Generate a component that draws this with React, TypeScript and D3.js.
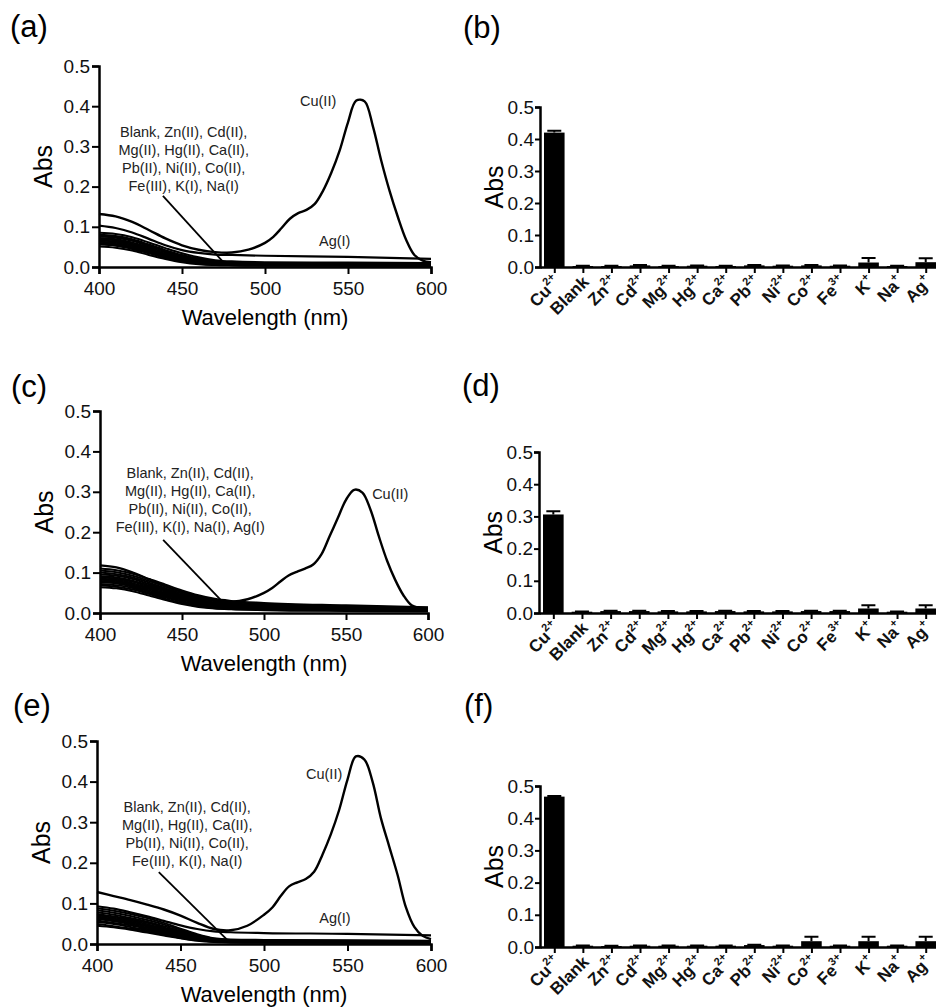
import { useEffect, useRef } from "react"
import * as d3 from "d3"

const FONT = "'Liberation Sans', Arial, sans-serif"

// wavelength grids (nm)
const WL_BG = [400, 410, 420, 430, 440, 450, 460, 470, 480, 500, 550, 600]
const WL_CU = [
  400, 410, 420, 430, 440, 450, 460, 470, 480, 490, 500, 505, 510, 515, 520,
  525, 530, 535, 540, 545, 550, 555, 560, 565, 570, 575, 580, 585, 590, 595, 600,
]

// (a) spectra
const cuA = [
  0.132, 0.126, 0.112, 0.092, 0.071, 0.054, 0.043, 0.037, 0.036, 0.043, 0.06,
  0.075, 0.097, 0.12, 0.134, 0.142, 0.157, 0.19, 0.235, 0.29, 0.36, 0.414,
  0.412, 0.35, 0.265, 0.19, 0.125, 0.068, 0.03, 0.016, 0.012,
]
const agA = [0.103, 0.097, 0.086, 0.07, 0.054, 0.042, 0.035, 0.031, 0.03, 0.028, 0.025, 0.02]
const othersA = [
  [0.085, 0.082, 0.074, 0.061, 0.047, 0.034, 0.024, 0.017, 0.014, 0.012, 0.011, 0.01],
  [0.08, 0.077, 0.069, 0.056, 0.042, 0.03, 0.021, 0.015, 0.012, 0.01, 0.009, 0.008],
  [0.078, 0.075, 0.067, 0.054, 0.04, 0.028, 0.019, 0.014, 0.011, 0.009, 0.008, 0.008],
  [0.076, 0.073, 0.065, 0.052, 0.039, 0.027, 0.018, 0.013, 0.01, 0.009, 0.008, 0.007],
  [0.072, 0.069, 0.061, 0.049, 0.036, 0.025, 0.016, 0.011, 0.009, 0.008, 0.007, 0.006],
  [0.069, 0.066, 0.058, 0.046, 0.033, 0.022, 0.014, 0.01, 0.008, 0.007, 0.006, 0.006],
  [0.066, 0.063, 0.055, 0.043, 0.031, 0.02, 0.013, 0.009, 0.007, 0.006, 0.006, 0.005],
  [0.063, 0.06, 0.052, 0.04, 0.028, 0.018, 0.011, 0.008, 0.006, 0.005, 0.005, 0.004],
  [0.06, 0.057, 0.049, 0.037, 0.026, 0.016, 0.01, 0.007, 0.005, 0.005, 0.004, 0.004],
  [0.058, 0.055, 0.047, 0.036, 0.025, 0.015, 0.009, 0.006, 0.005, 0.004, 0.004, 0.004],
  [0.056, 0.053, 0.045, 0.034, 0.023, 0.014, 0.009, 0.006, 0.005, 0.004, 0.004, 0.003],
  [0.051, 0.048, 0.041, 0.03, 0.02, 0.012, 0.007, 0.005, 0.004, 0.003, 0.003, 0.003],
]

// (c) spectra
const cuC = [
  0.118, 0.113, 0.1, 0.083, 0.066, 0.052, 0.04, 0.032, 0.028, 0.034, 0.05,
  0.062, 0.078, 0.093, 0.102, 0.11, 0.12, 0.145, 0.19, 0.235, 0.28, 0.305,
  0.298, 0.255, 0.19, 0.13, 0.082, 0.044, 0.019, 0.012, 0.01,
]
const othersC = [
  [0.11, 0.106, 0.097, 0.084, 0.07, 0.056, 0.044, 0.035, 0.03, 0.025, 0.019, 0.014],
  [0.105, 0.101, 0.092, 0.079, 0.065, 0.052, 0.041, 0.032, 0.027, 0.022, 0.017, 0.013],
  [0.1, 0.096, 0.088, 0.075, 0.061, 0.048, 0.037, 0.029, 0.024, 0.02, 0.015, 0.012],
  [0.095, 0.092, 0.084, 0.071, 0.058, 0.045, 0.034, 0.026, 0.022, 0.018, 0.014, 0.011],
  [0.091, 0.088, 0.08, 0.068, 0.055, 0.042, 0.032, 0.024, 0.02, 0.016, 0.013, 0.01],
  [0.088, 0.085, 0.077, 0.065, 0.052, 0.04, 0.03, 0.022, 0.018, 0.015, 0.012, 0.009],
  [0.085, 0.082, 0.074, 0.062, 0.049, 0.037, 0.027, 0.02, 0.016, 0.013, 0.011, 0.009],
  [0.082, 0.079, 0.071, 0.059, 0.046, 0.035, 0.025, 0.018, 0.015, 0.012, 0.01, 0.008],
  [0.079, 0.076, 0.068, 0.056, 0.044, 0.033, 0.023, 0.017, 0.014, 0.011, 0.009, 0.007],
  [0.076, 0.073, 0.065, 0.053, 0.041, 0.03, 0.021, 0.015, 0.012, 0.01, 0.008, 0.007],
  [0.072, 0.069, 0.062, 0.05, 0.038, 0.028, 0.019, 0.014, 0.011, 0.009, 0.007, 0.006],
  [0.068, 0.065, 0.058, 0.047, 0.035, 0.025, 0.017, 0.012, 0.01, 0.008, 0.006, 0.005],
  [0.064, 0.061, 0.054, 0.043, 0.032, 0.022, 0.015, 0.011, 0.009, 0.007, 0.005, 0.004],
]

// (e) spectra
const cuE = [
  0.128, 0.118, 0.108, 0.097, 0.085, 0.07, 0.052, 0.037, 0.034, 0.045, 0.072,
  0.09, 0.118, 0.142, 0.152, 0.16, 0.178, 0.22, 0.27, 0.33, 0.405, 0.462,
  0.455, 0.4, 0.31, 0.24, 0.17, 0.09, 0.042, 0.02, 0.012,
]
const agE = [0.093, 0.087, 0.078, 0.068, 0.057, 0.046, 0.037, 0.031, 0.029, 0.027, 0.025, 0.021]
const othersE = [
  [0.088, 0.082, 0.074, 0.064, 0.052, 0.038, 0.024, 0.014, 0.011, 0.01, 0.009, 0.008],
  [0.083, 0.077, 0.069, 0.059, 0.048, 0.035, 0.022, 0.013, 0.01, 0.009, 0.008, 0.007],
  [0.078, 0.072, 0.064, 0.055, 0.044, 0.032, 0.02, 0.012, 0.009, 0.008, 0.007, 0.006],
  [0.074, 0.068, 0.061, 0.052, 0.041, 0.029, 0.018, 0.011, 0.008, 0.007, 0.006, 0.006],
  [0.071, 0.065, 0.058, 0.049, 0.038, 0.027, 0.016, 0.01, 0.008, 0.007, 0.006, 0.005],
  [0.068, 0.062, 0.055, 0.046, 0.036, 0.025, 0.015, 0.009, 0.007, 0.006, 0.005, 0.005],
  [0.065, 0.059, 0.052, 0.043, 0.033, 0.023, 0.014, 0.008, 0.006, 0.006, 0.005, 0.004],
  [0.062, 0.056, 0.049, 0.04, 0.031, 0.021, 0.012, 0.008, 0.006, 0.005, 0.005, 0.004],
  [0.058, 0.052, 0.046, 0.037, 0.028, 0.019, 0.011, 0.007, 0.005, 0.005, 0.004, 0.004],
  [0.054, 0.049, 0.042, 0.034, 0.026, 0.017, 0.01, 0.006, 0.005, 0.004, 0.004, 0.003],
  [0.049, 0.044, 0.038, 0.031, 0.023, 0.015, 0.009, 0.006, 0.004, 0.004, 0.003, 0.003],
  [0.045, 0.041, 0.035, 0.028, 0.021, 0.014, 0.008, 0.005, 0.004, 0.003, 0.003, 0.003],
]

const NOTE_LINES = [
  "Blank, Zn(II), Cd(II),",
  "Mg(II), Hg(II), Ca(II),",
  "Pb(II), Ni(II), Co(II),",
  "Fe(III), K(I), Na(I)",
]
const NOTE_LINES_C = [
  "Blank, Zn(II), Cd(II),",
  "Mg(II), Hg(II), Ca(II),",
  "Pb(II), Ni(II), Co(II),",
  "Fe(III), K(I), Na(I), Ag(I)",
]

// bar charts
const IONS = ["Cu", "Blank", "Zn", "Cd", "Mg", "Hg", "Ca", "Pb", "Ni", "Co", "Fe", "K", "Na", "Ag"]
const CHARGES = ["2+", "", "2+", "2+", "2+", "2+", "2+", "2+", "2+", "2+", "3+", "+", "+", "+"]

const absB = [0.42, 0.003, 0.003, 0.005, 0.003, 0.004, 0.003, 0.005, 0.004, 0.005, 0.004, 0.014, 0.003, 0.015]
const errB = [0.006, 0.001, 0.001, 0.001, 0.001, 0.001, 0.001, 0.001, 0.001, 0.001, 0.001, 0.014, 0.001, 0.012]
const absD = [0.306, 0.004, 0.006, 0.006, 0.005, 0.005, 0.006, 0.005, 0.005, 0.006, 0.006, 0.014, 0.004, 0.014]
const errD = [0.01, 0.001, 0.001, 0.001, 0.001, 0.001, 0.001, 0.001, 0.001, 0.001, 0.001, 0.01, 0.001, 0.01]
const absF = [0.467, 0.004, 0.003, 0.004, 0.004, 0.004, 0.004, 0.006, 0.004, 0.018, 0.004, 0.018, 0.004, 0.018]
const errF = [0.002, 0.001, 0.001, 0.001, 0.001, 0.001, 0.001, 0.001, 0.001, 0.014, 0.001, 0.014, 0.001, 0.014]

const Y_TICKS = [0, 0.1, 0.2, 0.3, 0.4, 0.5]
const X_TICKS = [400, 450, 500, 550, 600]

const spectraPanels = [
  {
    label: "(a)", lx: 10, ly: 37, x0: 99, x1: 431, y0: 267, y1: 66,
    cu: cuA, ag: agA, others: othersA, note: NOTE_LINES,
    noteAt: [451, 0.323], ptrFrom: [438.5, 0.177], ptrTo: [476, 0.007],
    cuAt: [532, 0.401], agAt: [542, 0.052],
  },
  {
    label: "(c)", lx: 11, ly: 397, x0: 100, x1: 428, y0: 613, y1: 411,
    cu: cuC, ag: null, others: othersC, note: NOTE_LINES_C,
    noteAt: [455, 0.334], ptrFrom: [438.5, 0.181], ptrTo: [477.7, 0.015],
    cuAt: [577, 0.282], agAt: null,
  },
  {
    label: "(e)", lx: 13, ly: 716, x0: 97, x1: 431, y0: 944, y1: 741,
    cu: cuE, ag: agE, others: othersE, note: NOTE_LINES,
    noteAt: [454, 0.325], ptrFrom: [437, 0.177], ptrTo: [478, 0.01],
    cuAt: [536, 0.406], agAt: [542.5, 0.052],
  },
]

const barPanels = [
  { label: "(b)", lx: 463, ly: 38, x0: 540, x1: 940, y0: 267, y1: 107, values: absB, errors: errB },
  { label: "(d)", lx: 462, ly: 396, x0: 539, x1: 940, y0: 613, y1: 452, values: absD, errors: errD },
  { label: "(f)", lx: 464, ly: 716, x0: 540, x1: 940, y0: 947, y1: 786, values: absF, errors: errF },
]

const styleAxis = (g, fontSize) => {
  g.attr("font-family", FONT).attr("font-size", fontSize)
  g.select(".domain").attr("stroke", "#000").attr("stroke-width", 2.5)
  g.selectAll(".tick line").attr("stroke", "#000").attr("stroke-width", 2)
  g.selectAll(".tick text").attr("fill", "#111")
}

const App = () => {
  const ref = useRef(null)

  useEffect(() => {
    const svg = d3.select(ref.current)
    svg.selectAll("*").remove()

    spectraPanels.forEach((p) => {
      const x = d3.scaleLinear().domain([400, 600]).range([p.x0, p.x1])
      const y = d3.scaleLinear().domain([0, 0.5]).range([p.y0, p.y1])
      const g = svg.append("g")

      svg
        .append("text")
        .attr("x", p.lx)
        .attr("y", p.ly)
        .attr("font-family", FONT)
        .attr("font-size", 31)
        .text(p.label)

      const bgLine = d3
        .line()
        .x((d, i) => x(WL_BG[i]))
        .y((d) => y(d))
        .curve(d3.curveMonotoneX)
      const cuLine = d3
        .line()
        .x((d, i) => x(WL_CU[i]))
        .y((d) => y(d))
        .curve(d3.curveCatmullRom.alpha(0.5))

      const lines = g.append("g").attr("fill", "none").attr("stroke", "#000")
      p.others.forEach((s) => {
        lines.append("path").attr("d", bgLine(s)).attr("stroke-width", 2)
      })
      if (p.ag) lines.append("path").attr("d", bgLine(p.ag)).attr("stroke-width", 2.2)
      lines.append("path").attr("d", cuLine(p.cu)).attr("stroke-width", 2.4)

      // axes
      const ay = g
        .append("g")
        .attr("transform", `translate(${p.x0},0)`)
        .call(
          d3.axisLeft(y).tickValues(Y_TICKS).tickFormat(d3.format(".1f")).tickSize(7).tickPadding(2)
        )
      styleAxis(ay, 19)
      const ax = g
        .append("g")
        .attr("transform", `translate(0,${p.y0})`)
        .call(d3.axisBottom(x).tickValues(X_TICKS).tickSize(7).tickPadding(8))
      styleAxis(ax, 19)

      g.append("text")
        .attr("transform", `translate(${p.x0 - 47},${(p.y0 + p.y1) / 2}) rotate(-90)`)
        .attr("text-anchor", "middle")
        .attr("font-family", FONT)
        .attr("font-size", 25)
        .text("Abs")
      g.append("text")
        .attr("x", (p.x0 + p.x1) / 2)
        .attr("y", p.y0 + 58)
        .attr("text-anchor", "middle")
        .attr("font-family", FONT)
        .attr("font-size", 22)
        .text("Wavelength (nm)")

      // annotation
      const note = g
        .append("text")
        .attr("font-family", FONT)
        .attr("font-size", 14.5)
        .attr("fill", "#222")
        .attr("text-anchor", "middle")
      p.note.forEach((t, i) => {
        note
          .append("tspan")
          .attr("x", x(p.noteAt[0]))
          .attr("y", y(p.noteAt[1]) + i * 18)
          .text(t)
      })
      g.append("line")
        .attr("x1", x(p.ptrFrom[0]))
        .attr("y1", y(p.ptrFrom[1]))
        .attr("x2", x(p.ptrTo[0]))
        .attr("y2", y(p.ptrTo[1]))
        .attr("stroke", "#000")
        .attr("stroke-width", 1.8)

      g.append("text")
        .attr("x", x(p.cuAt[0]))
        .attr("y", y(p.cuAt[1]))
        .attr("text-anchor", "middle")
        .attr("font-family", FONT)
        .attr("font-size", 14.5)
        .attr("fill", "#222")
        .text("Cu(II)")
      if (p.agAt) {
        g.append("text")
          .attr("x", x(p.agAt[0]))
          .attr("y", y(p.agAt[1]))
          .attr("text-anchor", "middle")
          .attr("font-family", FONT)
          .attr("font-size", 14.5)
          .attr("fill", "#222")
          .text("Ag(I)")
      }
    })

    barPanels.forEach((p) => {
      const x = d3.scalePoint().domain(IONS).range([p.x0, p.x1]).padding(0.5)
      const y = d3.scaleLinear().domain([0, 0.5]).range([p.y0, p.y1])
      const bw = x.step() * 0.72
      const g = svg.append("g")

      svg
        .append("text")
        .attr("x", p.lx)
        .attr("y", p.ly)
        .attr("font-family", FONT)
        .attr("font-size", 31)
        .text(p.label)

      // error bars (upper only)
      g.append("g")
        .selectAll("path")
        .data(IONS)
        .join("path")
        .attr("d", (d, i) => {
          const cx = x(d)
          const top = y(p.values[i] + p.errors[i])
          return `M${cx},${y(p.values[i])}V${top}M${cx - 7},${top}H${cx + 7}`
        })
        .attr("stroke", "#000")
        .attr("stroke-width", 2)
        .attr("fill", "none")

      g.append("g")
        .selectAll("rect")
        .data(IONS)
        .join("rect")
        .attr("x", (d) => x(d) - bw / 2)
        .attr("width", bw)
        .attr("y", (d, i) => y(p.values[i]))
        .attr("height", (d, i) => Math.max(0, p.y0 - y(p.values[i])))
        .attr("fill", "#000")

      const ay = g
        .append("g")
        .attr("transform", `translate(${p.x0},0)`)
        .call(
          d3.axisLeft(y).tickValues(Y_TICKS).tickFormat(d3.format(".1f")).tickSize(5).tickPadding(1)
        )
      styleAxis(ay, 19)

      const ax = g
        .append("g")
        .attr("transform", `translate(0,${p.y0})`)
        .call(d3.axisBottom(x).tickSize(6).tickSizeOuter(0).tickFormat(() => ""))
      styleAxis(ax, 15)

      const labels = g
        .append("g")
        .selectAll("text")
        .data(IONS)
        .join("text")
        .attr("transform", (d) => `translate(${x(d) + 7},${p.y0 + 16}) rotate(-45)`)
        .attr("text-anchor", "end")
        .attr("font-family", FONT)
        .attr("font-size", 17)
        .attr("font-weight", "bold")
        .attr("fill", "#111")
      labels.append("tspan").text((d) => d)
      labels
        .append("tspan")
        .attr("dy", -8)
        .attr("font-size", 11)
        .text((d, i) => CHARGES[i])

      g.append("text")
        .attr("transform", `translate(${p.x0 - 37},${(p.y0 + p.y1) / 2}) rotate(-90)`)
        .attr("text-anchor", "middle")
        .attr("font-family", FONT)
        .attr("font-size", 25)
        .text("Abs")
    })
  }, [])

  return (
    <svg
      ref={ref}
      width={936}
      height={1008}
      viewBox="0 0 936 1008"
      style={{ position: "absolute", left: 0, top: 0, background: "#fff" }}
    />
  )
}

export default App
